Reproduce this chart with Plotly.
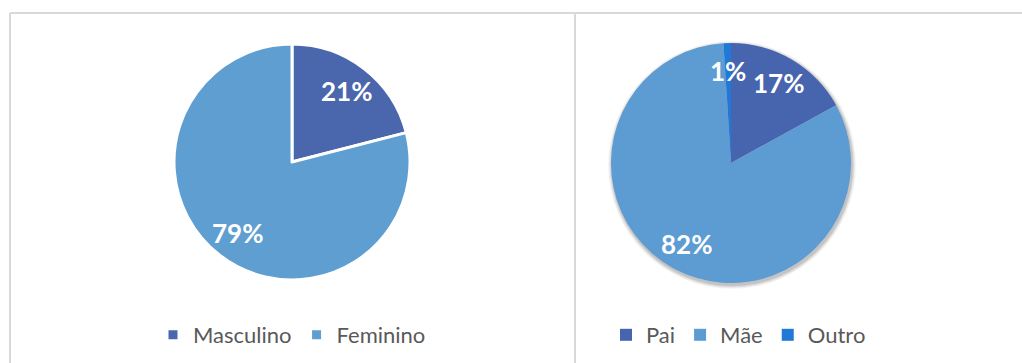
import math
import plotly.graph_objects as go

# Sexo dos respondentes
sexo_labels = ["Masculino", "Feminino"]
sexo_values = [21, 79]
sexo_colors = ["#4A66AC", "#5F9ED1"]

# Responsável
resp_labels = ["Pai", "Mãe", "Outro"]
resp_values = [17, 82, 1]
resp_colors = ["#4764AE", "#5D9BD3", "#2079D6"]

W, H = 1022, 363


def px_x(v):
    return v / W


def px_y(v):
    return 1 - v / H


def pie_box(cx, cy, r):
    return dict(x=[px_x(cx - r), px_x(cx + r)], y=[px_y(cy + r), px_y(cy - r)])


def slice_labels(values, cx, cy, r, frac=0.76):
    """White percentage labels along each slice's mid-angle (clockwise from 12 o'clock)."""
    total = sum(values)
    anns = []
    acc = 0
    for v in values:
        mid = (acc + v / 2) / total * 2 * math.pi
        acc += v
        x = cx + frac * r * math.sin(mid)
        y = cy - frac * r * math.cos(mid)
        anns.append(dict(
            x=px_x(x), y=px_y(y), xref="paper", yref="paper",
            text=f"{round(100 * v / total)}%", showarrow=False,
            xanchor="center", yanchor="middle",
            font=dict(family="Lato", size=26, color="white", weight="bold"),
        ))
    return anns


L_CX, L_CY, L_R = 292, 162, 118
R_CX, R_CY, R_R = 731, 163, 120

fig = go.Figure()

fig.add_trace(go.Pie(
    labels=sexo_labels,
    values=sexo_values,
    sort=False,
    direction="clockwise",
    rotation=0,
    marker=dict(colors=sexo_colors, line=dict(color="white", width=3)),
    textinfo="none",
    domain=pie_box(L_CX, L_CY, L_R),
    hoverinfo="label+percent",
    legend="legend",
))

fig.add_trace(go.Pie(
    labels=resp_labels,
    values=resp_values,
    sort=False,
    direction="clockwise",
    rotation=0,
    marker=dict(colors=resp_colors, line=dict(width=0)),
    textinfo="none",
    domain=pie_box(R_CX, R_CY, R_R),
    hoverinfo="label+percent",
    legend="legend2",
))

border = dict(type="line", xref="paper", yref="paper",
              line=dict(color="#D9D9D9", width=2))
shapes = [
    dict(border, x0=px_x(10), x1=1, y0=px_y(13), y1=px_y(13)),
    dict(border, x0=px_x(10), x1=px_x(10), y0=0, y1=px_y(13)),
    dict(border, x0=px_x(575), x1=px_x(575), y0=0, y1=px_y(13)),
]
# soft drop shadow under the right-hand pie
for grow, alpha in [(4, 0.04), (3, 0.05), (2, 0.07), (1, 0.09)]:
    cx, cy, r = R_CX + 1, R_CY + 2, R_R + grow
    shapes.append(dict(
        type="circle", xref="paper", yref="paper", layer="below",
        x0=px_x(cx - r), x1=px_x(cx + r), y0=px_y(cy + r), y1=px_y(cy - r),
        fillcolor=f"rgba(0,0,0,{alpha})", line=dict(width=0),
    ))

fig.update_layout(
    width=W, height=H,
    margin=dict(l=0, r=0, t=0, b=0),
    paper_bgcolor="white",
    plot_bgcolor="white",
    font=dict(family="Lato", color="#595959"),
    shapes=shapes,
    annotations=slice_labels(sexo_values, L_CX, L_CY, L_R)
    + slice_labels(resp_values, R_CX, R_CY, R_R, frac=0.77),
    legend=dict(
        orientation="h", x=px_x(153), xanchor="left", y=px_y(335), yanchor="middle",
        font=dict(size=22, color="#595959"), bgcolor="rgba(0,0,0,0)",
    ),
    legend2=dict(
        orientation="h", x=px_x(606), xanchor="left", y=px_y(335), yanchor="middle",
        font=dict(size=22, color="#595959"), bgcolor="rgba(0,0,0,0)",
    ),
)

fig.write_html("out.html")
